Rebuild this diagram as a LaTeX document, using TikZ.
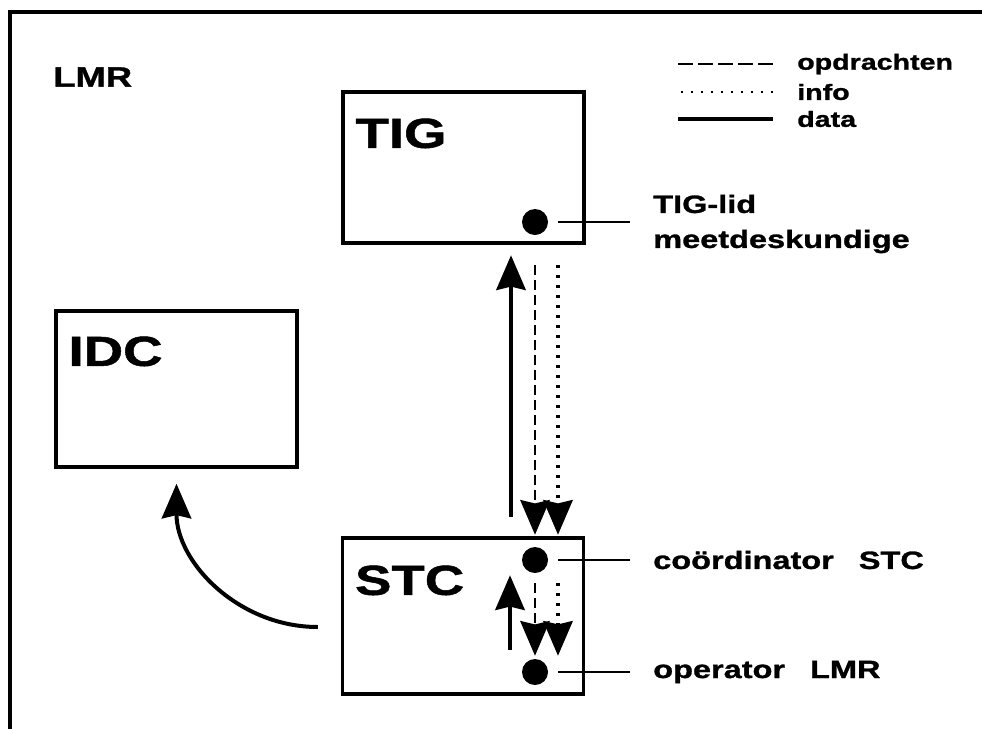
\documentclass[tikz,border=0pt]{standalone}
\usepackage{fontspec}
\newfontfamily\plotter{Liberation Sans}[FakeStretch=1.3,FakeBold=1.2]
\usetikzlibrary{arrows.meta}

\begin{document}
\begin{tikzpicture}[x=0.75pt,y=-0.75pt,
  font=\plotter\bfseries\fontsize{18.75}{26.25}\selectfont,
  blok/.style={draw,line width=2.6pt,minimum width=180.75pt,inner sep=0},
  naam/.style={anchor=north west,inner sep=0,font=\plotter\bfseries\fontsize{31.5}{36}\selectfont},
  stip/.style={circle,fill,inner sep=0,minimum size=19.5pt},
  rol/.style={anchor=west,inner sep=0,align=left},
  legtekst/.style={anchor=west,inner sep=0,font=\plotter\bfseries\fontsize{16.5}{20}\selectfont},
  lijn/.style={line width=1.5pt},
  pijl/.style={-{Stealth[length=26pt,width=22pt,inset=2.5pt]}},
  data/.style={line width=3pt},
  opdracht/.style={line width=2pt,dash pattern=on 7.5pt off 3.75pt},
  info/.style={line width=2.6pt,dash pattern=on 2.2pt off 5.3pt}]
\useasboundingbox (0,0) rectangle (982,729);
\draw[line width=2.6pt] (982,12) -- (10,12) -- (10,729);
\node[anchor=west,inner sep=0,font=\plotter\bfseries\fontsize{21}{24}\selectfont] (lmr) at (53,77) {LMR};
% legenda
\node[legtekst] (legOpdr) at (797,64) {opdrachten};
\node[legtekst] (legInfo) at (797,92) {info};
\node[legtekst] (legData) at (797,119) {data};
\draw[opdracht,dash pattern=on 11.25pt off 3.75pt] ([xshift=-18pt]legOpdr.west) -- ++(-95,0);
\draw[info,line width=2pt,dash pattern=on 1.5pt off 6pt] ([xshift=-18pt]legInfo.west) -- ++(-95,0);
\draw[data] ([xshift=-18pt]legData.west) -- ++(-95,0);
% blokken
\node[blok,minimum height=113.25pt] (TIG) at (463.5,167.5) {};
\node[blok,minimum height=117pt] (IDC) at (176.5,389) {};
\node[blok,minimum height=117pt] (STC) at (463,616) {};
\node[naam] (TIGnaam) at ([shift={(10.5pt,-21pt)}]TIG.north west) {TIG};
\node[naam] (IDCnaam) at ([shift={(10.5pt,-20.25pt)}]IDC.north west) {IDC};
\node[naam] (STCnaam) at ([shift={(10.5pt,-21.75pt)}]STC.north west) {STC};
% personen
\node[stip] (lid) at (535,222) {};
\node[stip] (coord) at (535,560) {};
\node[stip] (oper) at (535,672) {};
\node[rol] (lidTekst) at (653,224) {TIG-lid\\meetdeskundige};
\node[rol] (coordTekst) at (653,560) {coördinator\quad STC};
\node[rol] (operTekst) at (653,672) {operator\quad LMR};
\draw[lijn] ([xshift=7.5pt]lid.east) -- ([xshift=-17pt]lid -| lidTekst.west);
\draw[lijn] ([xshift=7.5pt]coord.east) -- ([xshift=-17pt]coordTekst.west);
\draw[lijn] ([xshift=7.5pt]oper.east) -- ([xshift=-17pt]operTekst.west);
% stromen
\draw[data,pijl] ([shift={(-18pt,22.5pt)}]coord.north) -- ([shift={(-18pt,-15pt)}]lid.south);
\draw[opdracht,pijl] ([yshift=-22.5pt]lid.south) -- ([yshift=9pt]coord.north);
\draw[info,pijl] ([shift={(17.25pt,-22.5pt)}]lid.south) -- ([shift={(17.25pt,9pt)}]coord.north);
\draw[data,pijl] ([shift={(-18.75pt,6.75pt)}]oper.north) -- ([shift={(-18.75pt,-1.5pt)}]coord.south);
\draw[opdracht,pijl] ([yshift=-7.5pt]coord.south) -- ([yshift=2.25pt]oper.north);
\draw[info,pijl] ([shift={(17.25pt,-7.5pt)}]coord.south) -- ([shift={(17.25pt,2.25pt)}]oper.north);
\draw[data,pijl] ([shift={(-17.25pt,-8.25pt)}]STC.west) to[out=180,in=-90] ([yshift=-11.25pt]IDC.south);
\end{tikzpicture}
\end{document}
